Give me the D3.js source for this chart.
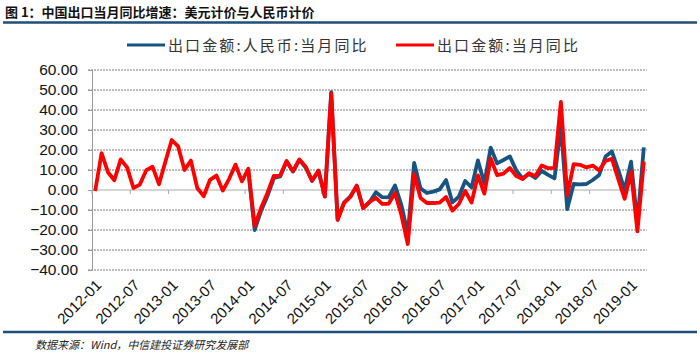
<!DOCTYPE html>
<html>
<head>
<meta charset="utf-8">
<script src="https://cdn.jsdelivr.net/npm/d3@7/dist/d3.min.js"></script>
<style>
body { margin: 0; background: #fff; }
text { font-family: "Liberation Sans", Arial, "Noto Sans CJK SC", sans-serif; }
.cjk { font-family: "Noto Sans CJK SC", sans-serif; }
</style>
</head>
<body>
<script>
// months 2012-01 .. 2019-03
var months = [
  "2012-01","2012-02","2012-03","2012-04","2012-05","2012-06","2012-07","2012-08","2012-09","2012-10","2012-11","2012-12",
  "2013-01","2013-02","2013-03","2013-04","2013-05","2013-06","2013-07","2013-08","2013-09","2013-10","2013-11","2013-12",
  "2014-01","2014-02","2014-03","2014-04","2014-05","2014-06","2014-07","2014-08","2014-09","2014-10","2014-11","2014-12",
  "2015-01","2015-02","2015-03","2015-04","2015-05","2015-06","2015-07","2015-08","2015-09","2015-10","2015-11","2015-12",
  "2016-01","2016-02","2016-03","2016-04","2016-05","2016-06","2016-07","2016-08","2016-09","2016-10","2016-11","2016-12",
  "2017-01","2017-02","2017-03","2017-04","2017-05","2017-06","2017-07","2017-08","2017-09","2017-10","2017-11","2017-12",
  "2018-01","2018-02","2018-03","2018-04","2018-05","2018-06","2018-07","2018-08","2018-09","2018-10","2018-11","2018-12",
  "2019-01","2019-02","2019-03"
];

// 出口金额:人民币:当月同比 (no data before 2014)
var rmbYoy = [
  null,null,null,null,null,null,null,null,null,null,null,null,
  null,null,null,null,null,null,null,null,null,null,null,null,
  9.6,-20.0,-10.5,-3.0,6.0,6.8,14.2,9.2,15.0,11.3,4.5,9.5,
  -3.2,48.9,-14.6,-6.3,-3.2,2.0,-9.0,-6.1,-1.1,-3.6,-3.7,2.3,
  -7.5,-22.0,13.5,0.8,-1.5,-0.8,0.3,5.0,-6.2,-3.4,4.5,1.3,
  14.8,3.3,21.2,13.3,15.0,16.8,9.8,5.8,8.0,6.0,9.5,7.6,
  5.8,32.0,-9.5,3.0,2.8,3.0,5.0,7.5,16.7,19.2,10.0,0.0,
  14.2,-16.6,21.3
];

// 出口金额:当月同比 (USD)
var usdYoy = [
  -0.5,18.4,8.9,4.9,15.3,11.3,1.0,2.7,9.9,11.6,2.9,14.1,
  25.0,21.8,10.0,14.7,1.0,-3.1,5.1,7.2,-0.3,5.6,12.7,4.3,
  10.6,-18.1,-9.0,-1.5,7.0,7.2,14.5,9.4,15.3,11.6,4.7,9.7,
  -3.3,48.3,-15.0,-6.6,-3.5,2.2,-9.0,-6.0,-3.9,-6.9,-6.9,-1.5,
  -12.5,-27.0,8.0,-4.0,-6.5,-6.5,-6.3,-3.5,-10.3,-7.0,-0.5,-6.3,
  7.3,-1.8,15.8,7.4,8.2,11.0,7.0,5.5,8.4,6.9,12.3,10.9,
  11.1,44.0,-2.7,12.9,12.6,11.3,12.2,9.8,14.5,15.6,5.4,-4.4,
  9.1,-20.7,14.2
];

var yTicks = [60, 50, 40, 30, 20, 10, 0, -10, -20, -30, -40];
var seriesNames = ["出口金额:人民币:当月同比", "出口金额:当月同比"];
var colors = ["#175482", "#ff0000"];

var width = 700,
    height = 354;

var svg = d3.select("body").append("svg")
    .attr("width", width)
    .attr("height", height);

// title + rules
svg.append("text")
    .attr("class", "cjk")
    .attr("x", 5).attr("y", 17)
    .style("font-size", "13px").style("font-weight", "bold")
    .attr("fill", "#111")
    .text("图 1：中国出口当月同比增速：美元计价与人民币计价");
svg.append("line").attr("x1", 3).attr("x2", 697).attr("y1", 22.5).attr("y2", 22.5)
    .attr("stroke", "#1f4e79").attr("stroke-width", 2.5);
svg.append("line").attr("x1", 3).attr("x2", 697).attr("y1", 332).attr("y2", 332)
    .attr("stroke", "#1f4e79").attr("stroke-width", 2.5);
svg.append("text")
    .attr("class", "cjk")
    .attr("x", 35).attr("y", 349)
    .style("font-size", "11px").style("font-style", "italic")
    .attr("fill", "#222")
    .text("数据来源：Wind，中信建投证券研究发展部");

// scales
var x = d3.scaleBand().domain(months).range([92, 647]).padding(0);
var y = d3.scaleLinear().domain([-40, 60]).range([270, 70]);
var cx = function(i) { return x(months[i]) + x.bandwidth() / 2; };

// gridlines
svg.append("g").selectAll("line")
    .data(yTicks.filter(function(d) { return d !== 0; }))
  .enter().append("line")
    .attr("x1", 88).attr("x2", 647)
    .attr("y1", function(d) { return y(d); })
    .attr("y2", function(d) { return y(d); })
    .attr("stroke", "#7a7a7a")
    .attr("stroke-dasharray", "2,1");

// y axis
var yAxis = d3.axisLeft(y).tickValues(yTicks).tickSize(4)
    .tickFormat(d3.format(".2f"));
var gy = svg.append("g").attr("transform", "translate(92,0)").call(yAxis);
gy.select(".domain").attr("stroke", "#9a9a9a");
gy.selectAll(".tick line").attr("stroke", "#9a9a9a");
gy.selectAll(".tick text").attr("x", -14)
    .style("font-size", "15.5px").attr("fill", "#111");

// zero line with category ticks
svg.append("line").attr("x1", 92).attr("x2", 647)
    .attr("y1", y(0)).attr("y2", y(0))
    .attr("stroke", "#aaa").attr("stroke-width", 1.2);
var labelMonths = months.filter(function(d, i) { return i % 6 === 0; });
svg.append("g").selectAll("line")
    .data(labelMonths)
  .enter().append("line")
    .attr("x1", function(d) { return x(d); })
    .attr("x2", function(d) { return x(d); })
    .attr("y1", y(0)).attr("y2", y(0) + 4)
    .attr("stroke", "#aaa");

// x labels at bottom
var xAxis = d3.axisBottom(x).tickValues(labelMonths).tickSize(0);
var gx = svg.append("g").attr("transform", "translate(0,277)").call(xAxis);
gx.select(".domain").remove();
gx.selectAll(".tick text")
    .attr("text-anchor", "end")
    .attr("dx", 0).attr("dy", 0)
    .attr("transform", "translate(5,7) rotate(-45)")
    .style("font-size", "15px").attr("fill", "#111");

// lines
var line = d3.line()
    .defined(function(d) { return d != null; })
    .x(function(d, i) { return cx(i); })
    .y(function(d) { return y(d); });

[rmbYoy, usdYoy].forEach(function(s, k) {
  svg.append("path")
      .datum(s)
      .attr("fill", "none")
      .attr("stroke", colors[k])
      .attr("stroke-width", 3.8)
      .attr("stroke-linejoin", "round")
      .attr("d", line);
});

// legend
var legendX = [127, 396];
seriesNames.forEach(function(name, k) {
  var g = svg.append("g").attr("transform", "translate(" + legendX[k] + ",45)");
  g.append("line").attr("x1", 0).attr("x2", 38)
      .attr("stroke", colors[k]).attr("stroke-width", 3);
  g.append("text").attr("class", "cjk")
      .attr("x", 41).attr("y", 5.5)
      .style("font-size", "15px").style("letter-spacing", "2.1px")
      .attr("fill", "#333")
      .text(name);
});
</script>
</body>
</html>
